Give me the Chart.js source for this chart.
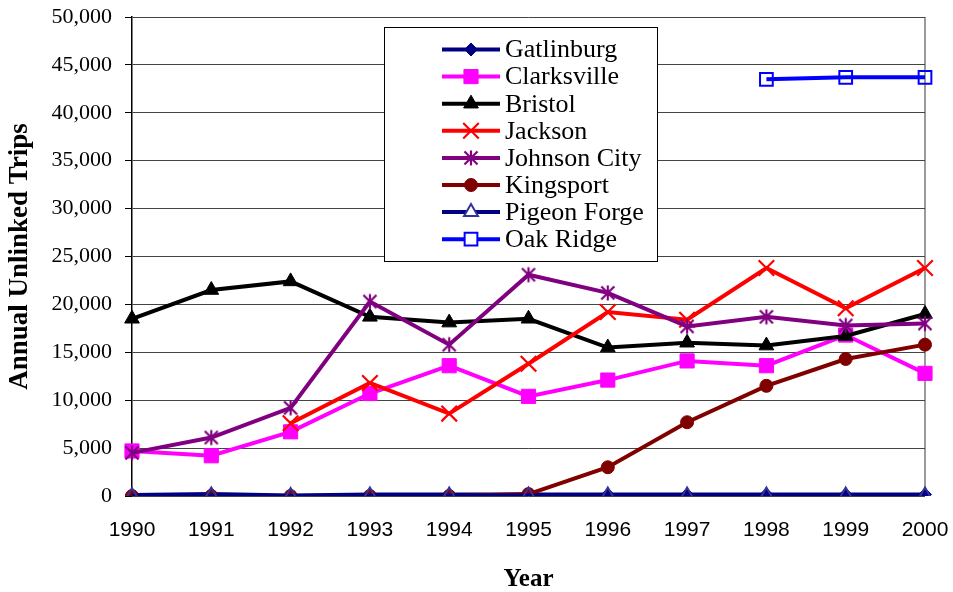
<!DOCTYPE html>
<html>
<head>
<meta charset="utf-8">
<script src="https://cdn.jsdelivr.net/npm/chart.js@4/dist/chart.umd.min.js"></script>
<style>
  html, body { margin: 0; padding: 0; background: #ffffff; }
  canvas { display: block; }
</style>
</head>
<body>
<canvas id="trips" width="953" height="592"></canvas>
<script>
// Annual unlinked trips by city, 1990-2000
const years = ['1990', '1991', '1992', '1993', '1994', '1995', '1996', '1997', '1998', '1999', '2000'];

const gatlinburg  = [100, 200, 50, 150, 150, 150, 150, 150, 150, 150, 150];
const clarksville = [4700, 4200, 6700, 10700, 13600, 10400, 12100, 14100, 13600, 16800, 12800];
const bristol     = [18500, 21500, 22400, 18700, 18100, 18500, 15500, 16000, 15700, 16700, 19000];
const jackson     = [null, null, 7600, 11800, 8600, 13800, 19200, 18400, 23800, 19600, 23800];
const johnsonCity = [4500, 6100, 9200, 20300, 15800, 23100, 21200, 17700, 18700, 17800, 18000];
const kingsport   = [0, 0, 0, 0, 0, 200, 3000, 7700, 11500, 14300, 15800];
const pigeonForge = [0, 50, 0, 50, 50, 50, 50, 50, 50, 50, 50];
const oakRidge    = [null, null, null, null, null, null, null, null, 43500, 43700, 43700];

const cityNames = ['Gatlinburg', 'Clarksville', 'Bristol', 'Jackson', 'Johnson City', 'Kingsport', 'Pigeon Forge', 'Oak Ridge'];
const citySeries = [gatlinburg, clarksville, bristol, jackson, johnsonCity, kingsport, pigeonForge, oakRidge];

const yMin = 0;
const yMax = 50000;
const yStep = 5000;

// Six-spoke asterisk marker (vertical stroke plus an X)
function asterisk(color, size, width) {
  const c = document.createElement('canvas');
  c.width = size;
  c.height = size;
  const g = c.getContext('2d');
  const m = size / 2, a = size / 2 - 1.5;
  g.strokeStyle = color;
  g.lineWidth = width;
  g.lineCap = 'butt';
  g.beginPath();
  g.moveTo(m, m - a); g.lineTo(m, m + a);
  g.moveTo(m - a * 0.87, m - a * 0.87); g.lineTo(m + a * 0.87, m + a * 0.87);
  g.moveTo(m + a * 0.87, m - a * 0.87); g.lineTo(m - a * 0.87, m + a * 0.87);
  g.stroke();
  return c;
}

// Line and marker look for each city, in the same order as cityNames
const looks = [
  { line: '#000080', edge: '#000080', fill: '#000080', shape: 'rectRot',  r: 6.5, bw: 1 },
  { line: '#FF00FF', edge: '#FF00FF', fill: '#FF00FF', shape: 'rect',     r: 10,  bw: 1 },
  { line: '#000000', edge: '#000000', fill: '#000000', shape: 'triangle', r: 8.5, bw: 1 },
  { line: '#FF0000', edge: '#FF0000', fill: '#FF0000', shape: 'crossRot', r: 11,  bw: 2.2 },
  { line: '#800080', edge: '#800080', fill: '#800080', shape: asterisk('#800080', 18, 2.2), r: 8, bw: 2 },
  { line: '#800000', edge: '#800000', fill: '#800000', shape: 'circle',   r: 6.5, bw: 1 },
  { line: '#000080', edge: '#333399', fill: 'rgba(0,0,0,0)', shape: 'triangle', r: 8, bw: 2 },
  { line: '#0000FF', edge: '#0000FF', fill: 'rgba(0,0,0,0)', shape: 'rect', r: 9, bw: 2 }
];

const datasets = cityNames.map((name, i) => ({
  label: name,
  data: citySeries[i],
  borderColor: looks[i].line,
  backgroundColor: looks[i].fill,
  borderWidth: 4,
  pointStyle: looks[i].shape,
  pointRadius: looks[i].r,
  pointBorderColor: looks[i].edge,
  pointBackgroundColor: looks[i].fill,
  pointBorderWidth: looks[i].bw,
  tension: 0,
  spanGaps: false,
  order: cityNames.length - i   // later cities paint over earlier ones
}));

// Boxed legend drawn inside the plot area
const boxedLegend = {
  id: 'boxedLegend',
  afterDatasetsDraw(chart) {
    const ctx = chart.ctx;
    const bx = 384, by = 27, bw = 273, bh = 234;
    const rowTop = 49.5, rowGap = 27.1;
    ctx.save();
    ctx.fillStyle = '#ffffff';
    ctx.fillRect(bx, by, bw, bh);
    ctx.strokeStyle = '#000000';
    ctx.lineWidth = 1;
    ctx.strokeRect(bx + 0.5, by + 0.5, bw, bh);
    ctx.font = '26px "Liberation Serif", "Times New Roman", serif';
    ctx.textBaseline = 'middle';
    ctx.textAlign = 'left';
    chart.data.datasets.forEach((ds, i) => {
      const y = rowTop + i * rowGap;
      ctx.strokeStyle = ds.borderColor;
      ctx.lineWidth = 4;
      ctx.beginPath();
      ctx.moveTo(442, y);
      ctx.lineTo(500, y);
      ctx.stroke();
      const hollow = ds.pointBackgroundColor === 'rgba(0,0,0,0)';
      ctx.fillStyle = hollow ? '#ffffff' : ds.pointBackgroundColor;
      ctx.strokeStyle = ds.pointBorderColor;
      ctx.lineWidth = ds.pointBorderWidth;
      Chart.helpers.drawPoint(ctx, {
        pointStyle: ds.pointStyle,
        radius: ds.pointRadius,
        rotation: 0,
        borderWidth: ds.pointBorderWidth
      }, 471, y);
      ctx.fillStyle = '#000000';
      ctx.fillText(ds.label, 505, y + 1);
    });
    ctx.restore();
  }
};

new Chart(document.getElementById('trips'), {
  type: 'line',
  data: { labels: years, datasets },
  plugins: [boxedLegend],
  options: {
    responsive: false,
    animation: false,
    events: [],
    layout: { padding: { top: 17, right: 28, left: 0, bottom: 0 } },
    plugins: {
      legend: { display: false },
      tooltip: { enabled: false },
      title: { display: false }
    },
    scales: {
      x: {
        type: 'category',
        offset: false,
        border: { display: false },
        grid: {
          drawTicks: false,
          lineWidth: 2,
          color: (c) => (c.index === years.length - 1 ? '#9a9a9a' : 'rgba(0,0,0,0)')
        },
        ticks: {
          color: '#000000',
          padding: 22,
          maxRotation: 0,
          autoSkip: false,
          font: { family: '"Liberation Sans", Arial, sans-serif', size: 21 }
        },
        title: {
          display: true,
          text: 'Year',
          color: '#000000',
          padding: { top: 0, bottom: -3 },
          font: { family: '"Liberation Serif", "Times New Roman", serif', size: 25, weight: 'bold' }
        },
        afterFit: (s) => { s.height = 96; s.paddingLeft = 0; s.paddingRight = 0; }
      },
      y: {
        min: yMin,
        max: yMax,
        border: { display: true, color: '#000000', width: 1.5 },
        grid: {
          color: '#444444',
          lineWidth: 1,
          drawTicks: true,
          tickLength: 7,
          tickColor: '#000000'
        },
        ticks: {
          stepSize: yStep,
          color: '#000000',
          padding: 13,
          font: { family: '"Liberation Serif", "Times New Roman", serif', size: 22 },
          callback: (v) => Number(v).toLocaleString('en-US')
        },
        title: {
          display: true,
          text: 'Annual Unlinked Trips',
          color: '#000000',
          padding: { top: 4, bottom: 4 },
          font: { family: '"Liberation Serif", "Times New Roman", serif', size: 27, weight: 'bold' }
        },
        afterFit: (s) => { s.width = 132; s.paddingTop = 0; s.paddingBottom = 0; }
      }
    }
  }
});
</script>
</body>
</html>
